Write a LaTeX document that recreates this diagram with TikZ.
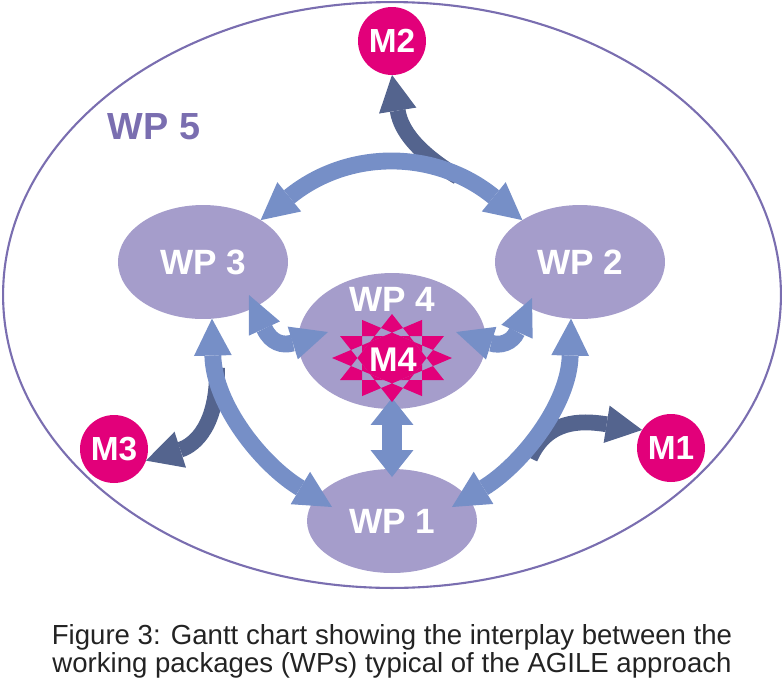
\documentclass[tikz,border=0pt]{standalone}
\usepackage{fontspec}
\setmainfont{Liberation Sans}
\usetikzlibrary{arrows.meta,shapes.geometric,calc}
\definecolor{wpfill}{RGB}{165,157,203}
\definecolor{lightarr}{RGB}{118,143,199}
\definecolor{darkarr}{RGB}{84,100,142}
\definecolor{mag}{RGB}{226,0,122}
\definecolor{outerc}{RGB}{122,110,176}
\definecolor{captxt}{RGB}{35,35,35}
\tikzset{
  lighttip/.tip={Triangle[length=21pt,width=21.5pt,line width=0pt]},
  verttip/.tip={Triangle[length=15.3pt,width=24.4pt,line width=0pt]},
  smalltip/.tip={Triangle[length=21pt,width=19.5pt,line width=0pt]},
  darktip/.tip={Triangle[length=20.5pt,width=21.5pt,line width=0pt]},
}
\begin{document}
\begin{tikzpicture}[x=0.02cm,y=-0.02cm,
  wpnode/.style={ellipse, fill=wpfill, inner sep=0pt, outer sep=0pt, text=white,
    font=\fontsize{20}{20}\selectfont\bfseries},
  mnode/.style={circle, fill=mag, minimum size=1.36cm, inner sep=0pt, outer sep=0pt,
    text=white, font=\fontsize{19}{19}\selectfont\bfseries},
  lightarrow/.style={draw=lightarr, line width=9.6pt},
  darkarrow/.style={draw=darkarr, line width=9pt},
  labeltxt/.style={text=white, font=\fontsize{20}{20}\selectfont\bfseries, inner sep=0pt},
  captionline/.style={anchor=base, text=captxt, inner sep=0pt, font=\fontsize{15.7}{15.7}\selectfont},
]
\useasboundingbox (0,0) rectangle (784,680);

% outer ellipse WP 5
\node[ellipse, draw=outerc, line width=1.2pt, minimum width=15.56cm, minimum height=11.72cm,
  inner sep=0pt, outer sep=0pt] (wp5) at (392,295) {};
\node[text=outerc, font=\fontsize{21.5}{21.5}\selectfont\bfseries, inner sep=0pt] (wp5lbl) at (154,127) {WP 5};

% work packages
\node[wpnode, minimum width=3.4cm, minimum height=2.28cm] (wp3) at (203,262) {WP 3};
\node[wpnode, minimum width=3.4cm, minimum height=2.28cm] (wp2) at (580,262) {WP 2};
\node[wpnode, minimum width=3.76cm, minimum height=2.72cm] (wp4) at (392,341) {};
\node[wpnode, minimum width=3.4cm, minimum height=2.08cm] (wp1) at (392,521) {WP 1};

% milestones
\node[mnode] (m2) at (392,41) {M2};
\node[mnode] (m3) at (114,449) {M3};
\node[mnode] (m1) at (671,448) {M1};

% free ends of the milestone arrows
\coordinate (m2s) at (458,177);
\coordinate (m3s) at (217,368);
\coordinate (m1s) at (530,458);

% dark milestone arrows
\draw[darkarrow, -darktip] (m2s) .. controls (410,148) and (400,125) .. (m2.-90);
\draw[darkarrow, -darktip] (m3s) .. controls (218,425) and (195,445) .. (m3.-20);
\draw[darkarrow, -darktip] (m1s) .. controls (547,420) and (580,420) .. (m1.148);

% light interplay arrows
\draw[lightarrow, lighttip-lighttip] (wp3.36) .. controls (348,149) and (435,149) .. (wp2.144);
\draw[lightarrow, lighttip-lighttip] (wp3.-81) .. controls (214,405) and (262,465) .. ($(wp1)+(-60,-14)$);
\draw[lightarrow, lighttip-lighttip] (wp2.-99) .. controls (569,405) and (521,465) .. ($(wp1)+(60,-14)$);
\draw[lightarrow, line width=11.3pt, verttip-verttip] ($(wp4)+(0,57)$) -- ($(wp1)+(0,-44)$);
\draw[lightarrow, smalltip-smalltip] ($(wp3)+(46,33)$) .. controls (271,343) and (283,346) .. ($(wp4)+(-64,-9)$);
\draw[lightarrow, smalltip-smalltip] ($(wp2)+(-48,36)$) .. controls (512,343) and (500,346) .. ($(wp4)+(64,-9)$);

% M4 star
\begin{scope}[shift={(392,358)}, xscale=60, yscale=44]
  \fill[mag, even odd rule]
    (90:1) -- (210:1) -- (330:1) -- cycle
    (270:1) -- (30:1) -- (150:1) -- cycle
    (0:1) -- (120:1) -- (240:1) -- cycle
    (180:1) -- (300:1) -- (60:1) -- cycle;
  \fill[mag] (15:0.5176) \foreach \a in {45,75,...,345} { -- (\a:0.5176) } -- cycle;
\end{scope}
\node[labeltxt] (wp4lbl) at (392,299) {WP 4};
\node[labeltxt, font=\fontsize{19.5}{19.5}\selectfont\bfseries] (m4lbl) at (393,360) {M4};

% caption
\node[captionline] (cap1) at (392,644) {Figure 3: Gantt chart showing the interplay between the};
\node[captionline] (cap2) at (392,672) {working packages (WPs) typical of the AGILE approach};
\end{tikzpicture}
\end{document}
